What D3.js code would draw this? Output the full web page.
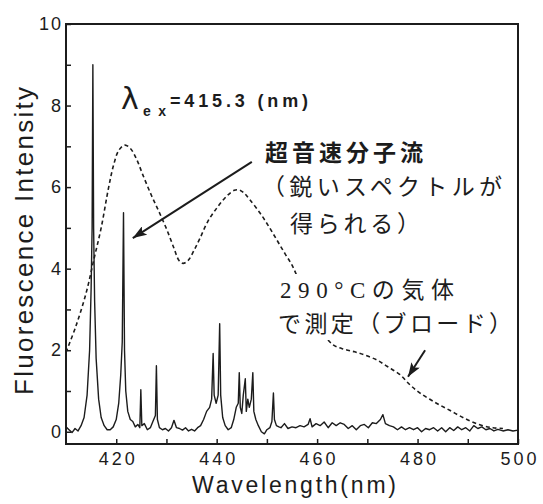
<!DOCTYPE html>
<html>
<head>
<meta charset="utf-8">
<script src="https://cdn.jsdelivr.net/npm/d3@7/dist/d3.min.js"></script>
<style>
  body { margin: 0; background: #fff; }
  svg text { fill: #1c1c1c; }
</style>
</head>
<body>
<div id="chart"></div>
<script>
/*********************************
   DATA
 *********************************/

// Supersonic Jet Spectrum (Sharp Lines)
const jetWavelength = [410.0, 410.6, 411.2, 411.8, 412.4, 413.0, 413.6, 414.2, 414.7, 415.0, 415.2, 415.35, 415.5, 415.7, 416.0, 416.5, 417.0, 417.6, 418.2, 418.8,
  419.4, 420.0, 420.5, 420.9, 421.2, 421.45, 421.65, 421.9, 422.3, 422.8, 423.3, 423.8, 424.3, 424.7, 424.9, 425.1, 425.6, 426.2, 426.8, 427.3,
  427.8, 428.0, 428.2, 428.6, 429.2, 429.8, 430.4, 431.0, 431.5, 432.0, 432.6, 433.2, 433.8, 434.4, 435.0, 435.6, 436.2, 436.8, 437.4, 438.0,
  438.6, 439.0, 439.3, 439.5, 439.9, 440.3, 440.6, 440.8, 441.2, 441.7, 442.3, 442.9, 443.4, 443.9, 444.3, 444.5, 444.7, 445.0, 445.3, 445.7,
  445.9, 446.2, 446.5, 446.9, 447.2, 447.4, 447.8, 448.3, 448.9, 449.5, 450.0, 450.6, 451.0, 451.3, 451.5, 451.9, 452.4, 452.8, 453.5, 454.2,
  455.0, 455.8, 456.6, 457.4, 458.2, 458.6, 459.0, 459.8, 460.6, 461.4, 462.2, 463.0, 463.8, 464.6, 465.4, 466.2, 467.0, 467.8, 468.6, 469.4,
  470.2, 471.0, 471.8, 472.6, 473.1, 473.6, 474.4, 475.2, 476.0, 476.8, 477.6, 478.4, 479.2, 480.0, 480.8, 481.6, 482.4, 483.2, 484.0, 484.8,
  485.6, 486.4, 487.2, 488.0, 488.8, 489.6, 490.4, 491.2, 492.0, 492.8, 493.6, 494.4, 495.2, 496.0, 497.0, 498.0, 499.0, 500.0];
const jetIntensity = [0.12, 0.05, -0.02, 0.08, 0.02, 0.15, 0.35, 0.9, 2.0, 3.5, 5.0, 9.0, 5.0, 3.2, 1.8, 0.8, 0.35, 0.15, 0.05, 0.05,
  0.12, 0.3, 0.7, 1.4, 2.2, 5.37, 2.0, 1.0, 0.5, 0.3, 0.25, 0.12, 0.18, 0.1, 1.03, 0.15, 0.2, 0.05, 0.1, 0.25,
  0.4, 1.62, 0.3, 0.1, 0.05, 0.08, 0.02, 0.1, 0.28, 0.1, 0.08, 0.04, 0.1, 0.02, 0.06, 0.02, 0.1, 0.15, 0.3, 0.5,
  0.6, 0.8, 1.92, 0.9, 0.7, 0.9, 2.65, 0.9, 0.35, 0.15, 0.05, 0.1, 0.3, 0.6, 0.7, 1.45, 0.6, 0.45, 0.9, 1.3,
  0.5, 0.8, 0.6, 0.8, 1.45, 0.5, 0.3, 0.15, 0.0, -0.05, 0.05, 0.1, 0.25, 0.95, 0.3, 0.15, 0.12, 0.1, 0.2, 0.08,
  0.12, 0.1, 0.15, 0.12, 0.18, 0.32, 0.12, 0.2, 0.15, 0.24, 0.1, 0.22, 0.15, 0.22, 0.18, 0.08, 0.15, 0.05, 0.15, 0.18,
  0.1, 0.22, 0.2, 0.3, 0.42, 0.2, 0.15, 0.12, 0.05, 0.12, 0.05, 0.1, 0.05, 0.1, 0.0, 0.08, 0.05, 0.1, 0.02, 0.1,
  0.0, 0.1, 0.03, 0.12, 0.05, 0.1, 0.02, 0.15, 0.08, 0.12, 0.05, 0.08, 0.02, 0.06, 0.02, 0.05, 0.02, 0.04];

// Vapour At 290 °C (Broad Band)
const gasWavelength = [410.0, 412.0, 414.0, 415.5, 417.0, 418.5, 419.5, 420.5, 421.7, 422.8, 424.0, 425.3, 427.0, 428.5, 430.1, 431.5, 432.5, 433.3, 434.3, 435.5,
  436.7, 438.2, 440.1, 442.0, 443.5, 444.5, 445.5, 446.6, 448.6, 450.3, 452.0, 453.6, 455.2, 457.0, 459.0, 461.0, 463.2, 465.5, 467.5, 469.5,
  471.9, 474.0, 476.5, 478.5, 480.5, 483.5, 486.5, 489.5, 492.4, 495.0, 497.0];
const gasIntensity = [1.95, 2.6, 3.4, 4.2, 5.0, 6.0, 6.55, 6.9, 7.03, 6.95, 6.7, 6.3, 5.8, 5.4, 4.95, 4.5, 4.2, 4.13, 4.2, 4.45,
  4.75, 5.15, 5.5, 5.78, 5.92, 5.93, 5.85, 5.69, 5.37, 5.05, 4.7, 4.37, 4.04, 3.5, 2.95, 2.45, 2.13, 2.02, 1.96, 1.88,
  1.76, 1.6, 1.4, 1.15, 0.95, 0.72, 0.52, 0.32, 0.17, 0.1, 0.08];

// Axis Ticks
const xTickValues = [420, 430, 440, 450, 460, 470, 480, 490, 500];
const xTickLabels = [420, 440, 460, 480, 500];
const yTickValues = [0, 1, 2, 3, 4, 5, 6, 7, 8, 9, 10];
const yTickLabels = [0, 2, 4, 6, 8, 10];

/*********************************
   DRAW CHART
 *********************************/

// Initialise Dimensions
let w = 543, h = 504;
let plot = {left: 66, right: 518, top: 24, bottom: 444};

// Render SVG On DOM
let svg = d3.select("#chart").append("svg").attr("width", w).attr("height", h);
svg.append("rect").attr("width", w).attr("height", h).attr("fill", "#fff");

// Scales
let x = d3.scaleLinear().domain([410, 500]).range([plot.left, plot.right]);
let y = d3.scaleLinear().domain([-0.3, 10]).range([plot.bottom, plot.top]);

// Bottom Axis (Inward Ticks)
let xAxis = d3.axisBottom(x).tickValues(xTickValues).tickSize(-5).tickPadding(8)
  .tickFormat((d) => { return xTickLabels.includes(d) ? d : ""; });
let gx = svg.append("g").attr("transform", "translate(0," + plot.bottom + ")").call(xAxis);
gx.select(".domain").remove();
gx.selectAll("line").attr("stroke", "#1c1c1c").attr("stroke-width", 1.5);
gx.selectAll("text").style("font-family", "'Liberation Sans', Arial, sans-serif").style("font-size", "18px")
  .style("letter-spacing", "3px").attr("dx", "1.5px");

// Left Axis (Inward Ticks)
let yAxis = d3.axisLeft(y).tickValues(yTickValues).tickSize(-5).tickPadding(3)
  .tickFormat((d) => { return yTickLabels.includes(d) ? d : ""; });
let gy = svg.append("g").attr("transform", "translate(" + plot.left + ",0)").call(yAxis);
gy.select(".domain").remove();
gy.selectAll("line").attr("stroke", "#1c1c1c").attr("stroke-width", 1.5);
gy.selectAll("text").style("font-family", "'Liberation Sans', Arial, sans-serif").style("font-size", "18px")
  .style("letter-spacing", "2px");

// Frame
svg.append("rect").attr("x", plot.left).attr("y", plot.top)
  .attr("width", plot.right - plot.left).attr("height", plot.bottom - plot.top)
  .attr("fill", "none").attr("stroke", "#1c1c1c").attr("stroke-width", 2);

// Broad Gas Spectrum (Dashed)
let gasData = gasWavelength.map((v, i) => [v, gasIntensity[i]]);
let gasLine = d3.line().x((d) => x(d[0])).y((d) => y(d[1])).curve(d3.curveCatmullRom);
svg.append("path").attr("d", gasLine(gasData)).attr("fill", "none")
  .attr("stroke", "#1c1c1c").attr("stroke-width", 1.6).attr("stroke-dasharray", "4,3");

// Jet Spectrum (Solid)
let jetData = jetWavelength.map((v, i) => [v, jetIntensity[i]]);
let jetLine = d3.line().x((d) => x(d[0])).y((d) => y(d[1]));
svg.append("path").attr("d", jetLine(jetData)).attr("fill", "none")
  .attr("stroke", "#1c1c1c").attr("stroke-width", 1.4).attr("stroke-linejoin", "round");

// Axis Titles
svg.append("text").text("Wavelength(nm)").attr("x", 192).attr("y", 493).attr("textLength", 204)
  .style("font-family", "'Liberation Sans', Arial, sans-serif").style("font-size", "23px");
svg.append("text").text("Fluorescence Intensity").attr("transform", "translate(33,395) rotate(-90)")
  .attr("textLength", 308).style("font-family", "'Liberation Sans', Arial, sans-serif").style("font-size", "26px");

// Excitation Wavelength Label
svg.append("text").text("λ").attr("x", 121).attr("y", 109)
  .style("font-family", "'DejaVu Sans', sans-serif").style("font-size", "30px");
svg.append("text").text("ex").attr("x", 143).attr("y", 116).attr("textLength", 23)
  .style("font-family", "'Liberation Sans', Arial, sans-serif").style("font-size", "14px").style("font-weight", "bold");
svg.append("text").text("=415.3 (nm)").attr("x", 170).attr("y", 107).attr("textLength", 138)
  .style("font-family", "'Liberation Sans', Arial, sans-serif").style("font-size", "18px").style("font-weight", "bold");

// Arrow Heads
svg.append("defs").append("marker").attr("id", "head").attr("markerUnits", "userSpaceOnUse")
  .attr("viewBox", "0 0 14 10").attr("refX", 14).attr("refY", 5)
  .attr("markerWidth", 14).attr("markerHeight", 10).attr("orient", "auto")
  .append("path").attr("d", "M0,0 L14,5 L0,10 L3,5 z").attr("fill", "#1c1c1c");

// Annotation Arrows (Data Coordinates)
let arrows = [[[447.0, 6.62], [423.3, 4.75]], [[481.5, 2.0], [478.1, 1.35]]];
arrows.forEach((a) => {
  svg.append("line").attr("x1", x(a[0][0])).attr("y1", y(a[0][1]))
    .attr("x2", x(a[1][0])).attr("y2", y(a[1][1]))
    .attr("stroke", "#1c1c1c").attr("stroke-width", 2).attr("marker-end", "url(#head)");
});

// Japanese Annotations
let jp = "'Liberation Serif', 'Noto Sans CJK JP', serif";
svg.append("text").text("超音速分子流").attr("x", 265).attr("y", 161).attr("textLength", 158)
  .style("font-family", jp).style("font-size", "23px").style("font-weight", "bold");
svg.append("text").text("（鋭いスペクトルが").attr("x", 262).attr("y", 195).attr("textLength", 240)
  .style("font-family", jp).style("font-size", "23px");
svg.append("text").text("得られる）").attr("x", 290).attr("y", 232).attr("textLength", 130)
  .style("font-family", jp).style("font-size", "23px");

// White Box Behind Gas Label (Hides The Dashes)
svg.append("rect").attr("x", 276).attr("y", 274).attr("width", 236).attr("height", 66).attr("fill", "#fff");
svg.append("text").text("290°Cの気体").attr("x", 280).attr("y", 298).attr("textLength", 174)
  .style("font-family", jp).style("font-size", "23px");
svg.append("text").text("で測定（ブロード）").attr("x", 278).attr("y", 332).attr("textLength", 234)
  .style("font-family", jp).style("font-size", "23px");
</script>
</body>
</html>
